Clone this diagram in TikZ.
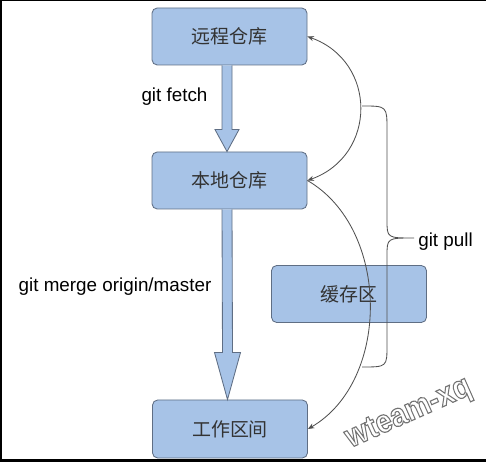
\documentclass[tikz,border=0pt]{standalone}
\usepackage{fontspec}
\setmainfont{Liberation Sans}
\newfontfamily\cjk{Noto Sans CJK SC}
\usetikzlibrary{arrows.meta,calc}

\definecolor{boxblue}{RGB}{167,195,231}
\definecolor{boxedge}{RGB}{95,110,132}
\definecolor{cjkgray}{RGB}{51,51,51}
\definecolor{linegray}{RGB}{80,80,80}

\tikzset{
  repo/.style={draw=boxedge, fill=boxblue, rounded corners=1.3mm, line width=0.6pt,
    minimum width=38.75mm, minimum height=14.25mm, inner sep=0pt,
    font=\cjk\fontsize{13.5}{16}\selectfont, text=cjkgray},
  fatarrow/.style={draw=boxedge, fill=boxblue, line width=0.6pt, line join=miter},
  pullline/.style={draw=linegray, line width=0.6pt},
  cmd/.style={inner sep=0pt, font=\fontsize{13.4}{16}\selectfont},
  pulltip/.style={-{Stealth[length=1.6mm,width=1.3mm]}},
  pulltips/.style={{Stealth[length=1.6mm,width=1.3mm]}-{Stealth[length=1.6mm,width=1.3mm]}},
}

% #1 from, #2 to, #3 head length, #4 head half width
\newcommand{\fatarrow}[4]{%
  \path (#1.south) ++(-2.5,0) coordinate (fa-a);
  \path (#2.north) ++(-2.5,0) coordinate (fa-b);
  \filldraw[fatarrow] ($(fa-a)+(-5,0)$) -- ($(fa-b)+(-5,-#3)$) -- ($(fa-b)+(-#4,-#3)$)
    -- (fa-b) -- ($(fa-b)+(#4,-#3)$) -- ($(fa-b)+(5,-#3)$) -- ($(fa-a)+(5,0)$);
}
% outlined text for the watermark
\newcommand{\outlined}[1]{\special{pdf:code q 2 Tr 0.8 w 0.45 G}#1\special{pdf:code Q}}

\begin{document}
\begin{tikzpicture}[x=0.25mm,y=-0.25mm]
        \useasboundingbox (0,0) rectangle (486,462);
        % frame
        \draw[line width=0.5mm] (0,0.5) -- (486,0.5);
        \draw[line width=0.5mm] (0.5,0) -- (0.5,462);
        \draw[line width=0.75mm] (0,460) -- (486,460);

        \node[repo] (remote) at (229.5,36.5) {远程仓库};
        \node[repo] (local) at (229.5,180.5) {本地仓库};
        \node[repo, minimum height=14.5mm] (work) at (230,429) {工作区间};
        \node[repo] (cache) at (349,294) {缓存区};

        \fatarrow{remote}{local}{22}{12}
        \fatarrow{local}{work}{47}{13}

        \node[cmd] (fetch) at (174.5,97) {git fetch};
        \node[cmd] (merge) at (115,287) {git merge origin/master};

        \draw[pullline,pulltips] (local.east) .. controls +(70,-25) and +(70,25) .. (remote.east);
        \draw[pullline,pulltip] (local.east) .. controls +(83,48) and +(83,-48) .. (work.east);

        % brace
        \coordinate (btop) at (362,106);
        \coordinate (bbot) at (362,367);
        \coordinate (btip) at (414,238);
        \draw[pullline] (btop) .. controls (387,106) .. (387,130) -- (387,220)
          .. controls (387,238) .. (btip) .. controls (387,238) .. (387,256)
          -- (387,345) .. controls (387,367) .. (bbot);
        \node[cmd] (pull) at (445.5,242) {git pull};

        \node[rotate=24, inner sep=0pt, text=white, font=\bfseries\fontsize{23}{26}\selectfont] (mark) at (409,414)
          {\scalebox{0.9}[1]{\outlined{wteam-xq}}};
      \end{tikzpicture}
\end{document}
